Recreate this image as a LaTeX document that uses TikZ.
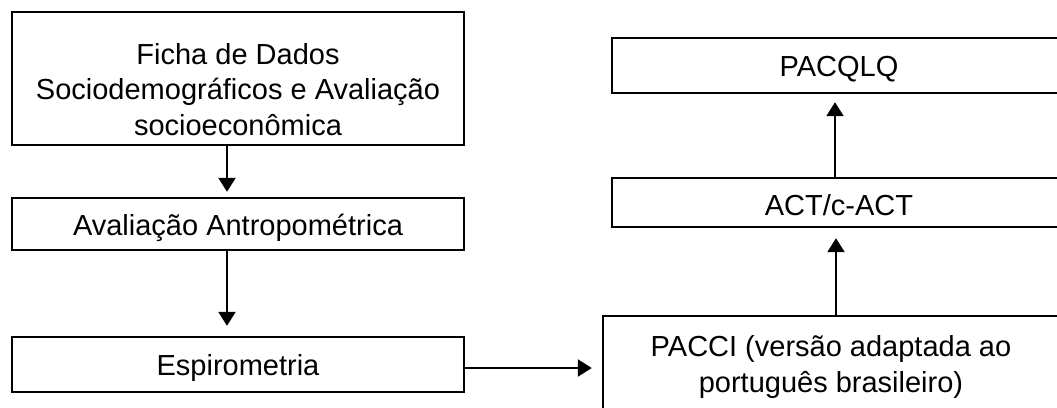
\documentclass[tikz,border=0pt]{standalone}
\usepackage{fontspec}
\setmainfont{Liberation Sans}
\usetikzlibrary{arrows.meta,calc}
\begin{document}
\begin{tikzpicture}[x=1pt,y=-1pt,
  box/.style={draw=black,line width=2.4pt,fill=white,inner sep=0pt},
  txt/.style={font=\fontsize{29}{35.7}\selectfont,align=center,inner sep=0pt},
  arr/.style={draw=black,line width=2.2pt,-{Triangle[length=14pt,width=17pt]}}]
\useasboundingbox (0,0) rectangle (1057,407);
\clip (0,0) rectangle (1057,407);
% boxes
\node[box,minimum width=452pt,minimum height=133pt] (b1) at (238,78.5) {};
\node[box,minimum width=452pt,minimum height=52pt] (b2) at (238,224) {};
\node[box,minimum width=452pt,minimum height=55pt] (b3) at (238,364.5) {};
\node[box,minimum width=457pt,minimum height=114pt] (b4) at (831.5,373) {};
\node[box,minimum width=448pt,minimum height=49pt] (b5) at (836,202.5) {};
\node[box,minimum width=448pt,minimum height=55pt] (b6) at (836,65.5) {};
% texts
\node[txt] (t1) at (238,89.5) {Ficha de Dados\\Sociodemográficos e Avaliação\\socioeconômica};
\node[txt,anchor=base] (t2) at (238,235) {Avaliação Antropométrica};
\node[txt,anchor=base] (t3) at (238,375) {Espirometria};
\node[txt] (t4) at (831,367) {PACCI (versão adaptada ao\\português brasileiro)};
\node[txt,anchor=base] (t5) at (839,215) {ACT/c-ACT};
\node[txt,anchor=base] (t6) at (839,76.7) {PACQLQ};
% connectors
\draw[arr,shorten >=5pt] ($(b1.south)+(-11,0)$) -- ($(b2.north)+(-11,0)$);
\draw[arr,shorten >=10pt] ($(b2.south)+(-11,0)$) -- ($(b3.north)+(-11,0)$);
\draw[arr,shorten >=10pt] ($(b3.east)+(0,3.5)$) -- ($(b3.east -| b4.west)+(0,3.5)$);
\draw[arr,shorten >=10pt] ($(b4.north)+(4.5,0)$) -- ($(b5.south -| b4.north)+(4.5,0)$);
\draw[arr,shorten >=8pt] ($(b5.north)+(-1,0)$) -- ($(b6.south)+(-1,0)$);
\end{tikzpicture}
\end{document}
